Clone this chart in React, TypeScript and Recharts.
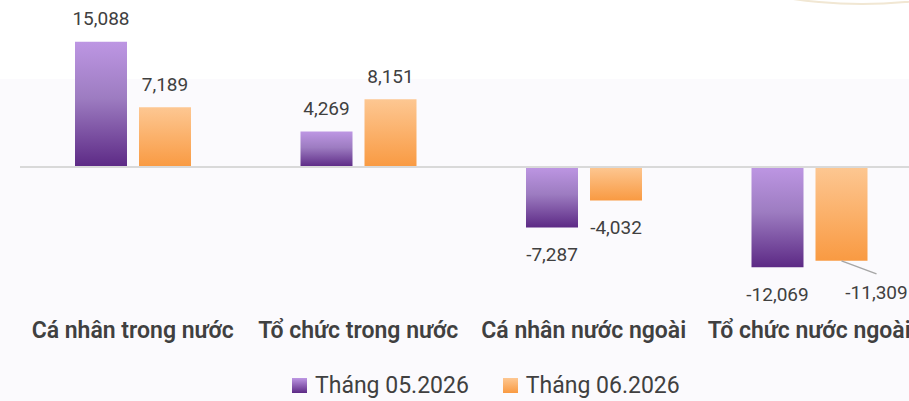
import { BarChart, Bar, XAxis, YAxis, ReferenceLine, LabelList } from 'recharts';

const categories = ['Cá nhân trong nước', 'Tổ chức trong nước', 'Cá nhân nước ngoài', 'Tổ chức nước ngoài'];
const may2026 = [15088, 4269, -7287, -12069];
const jun2026 = [7189, 8151, -4032, -11309];
const seriesNames = ['Tháng 05.2026', 'Tháng 06.2026'];

const data = categories.map((name, i) => ({ name, may: may2026[i], jun: jun2026[i] }));

const FONT = 'Roboto, "Noto Sans", sans-serif';
const TEXT = '#404040';

const fmt = (v: number) => v.toLocaleString('en-US');

const makeLabel = (series: 'may' | 'jun') => (props: any) => {
  const { x, y, width, height, value, index } = props;
  const top = Math.min(y, y + height);
  const bottom = Math.max(y, y + height);
  const cx = x + width / 2;
  const style = { fontFamily: FONT, fontSize: 19, fill: TEXT };

  // last orange label is pushed out to the side with a leader line
  if (series === 'jun' && index === categories.length - 1) {
    return (
      <g>
        <line x1={cx} y1={bottom} x2={cx + 35} y2={bottom + 13} stroke="#a6a6a6" strokeWidth={1.5} />
        <text x={cx + 35} y={bottom + 32} textAnchor="middle" dominantBaseline="central" style={style}>
          {fmt(value)}
        </text>
      </g>
    );
  }
  const ty = value >= 0 ? top - 23 : bottom + 27;
  return (
    <text x={cx} y={ty} textAnchor="middle" dominantBaseline="central" style={style}>
      {fmt(value)}
    </text>
  );
};

const CategoryTick = (props: any) => {
  const { x, payload } = props;
  return (
    <text
      x={x}
      y={330}
      textAnchor="middle"
      dominantBaseline="central"
      style={{ fontFamily: FONT, fontSize: 23, fontWeight: 600, fill: TEXT }}
    >
      {payload.value}
    </text>
  );
};

export default function App() {
  return (
    <div
      style={{
        position: 'relative',
        width: 909,
        height: 401,
        overflow: 'hidden',
        background: 'linear-gradient(to bottom, #ffffff 0px, #ffffff 79px, #fbfafd 79px, #fbfafd 100%)',
      }}
    >
      <style>{'body{margin:0}'}</style>

      {/* decorative arc top right */}
      <div
        style={{
          position: 'absolute',
          left: 640,
          top: -197,
          width: 440,
          height: 198,
          borderRadius: '50%',
          border: '2px solid #f1e7d3',
        }}
      />

      <div style={{ position: 'absolute', left: 0, top: 0 }}>
        <BarChart
          width={922}
          height={401}
          data={data}
          margin={{ top: 1, right: 0, left: 20, bottom: 0 }}
          barSize={52}
          barGap={12}
        >
          <defs>
            <linearGradient id="gradMay" x1="0" y1="0" x2="0" y2="1">
              <stop offset="0%" stopColor="#bd96e3" />
              <stop offset="45%" stopColor="#9d7cc1" />
              <stop offset="100%" stopColor="#5c2985" />
            </linearGradient>
            <linearGradient id="gradJun" x1="0" y1="0" x2="0" y2="1">
              <stop offset="0%" stopColor="#fdc792" />
              <stop offset="100%" stopColor="#f99a42" />
            </linearGradient>
          </defs>
          <XAxis
            dataKey="name"
            height={68}
            axisLine={false}
            tickLine={false}
            interval={0}
            tick={<CategoryTick />}
          />
          <YAxis hide domain={[-20000, 20000]} allowDataOverflow />
          <Bar dataKey="may" fill="url(#gradMay)" isAnimationActive={false}>
            <LabelList dataKey="may" content={makeLabel('may')} />
          </Bar>
          <Bar dataKey="jun" fill="url(#gradJun)" isAnimationActive={false}>
            <LabelList dataKey="jun" content={makeLabel('jun')} />
          </Bar>
          <ReferenceLine y={0} stroke="#d9d9d9" strokeWidth={2} />
        </BarChart>
      </div>

      {/* legend */}
      <div
        style={{
          position: 'absolute',
          left: 292,
          top: 372,
          display: 'flex',
          alignItems: 'center',
          gap: 34,
          fontFamily: FONT,
          fontSize: 23,
          color: TEXT,
          whiteSpace: 'nowrap',
        }}
      >
        {seriesNames.map((s, i) => (
          <div key={s} style={{ display: 'flex', alignItems: 'center', gap: 8 }}>
            <span
              style={{
                display: 'inline-block',
                width: 15,
                height: 15,
                background:
                  i === 0
                    ? 'linear-gradient(to bottom, #bd96e3, #5c2985)'
                    : 'linear-gradient(to bottom, #fdc792, #f99a42)',
              }}
            />
            <span>{s}</span>
          </div>
        ))}
      </div>
    </div>
  );
}
